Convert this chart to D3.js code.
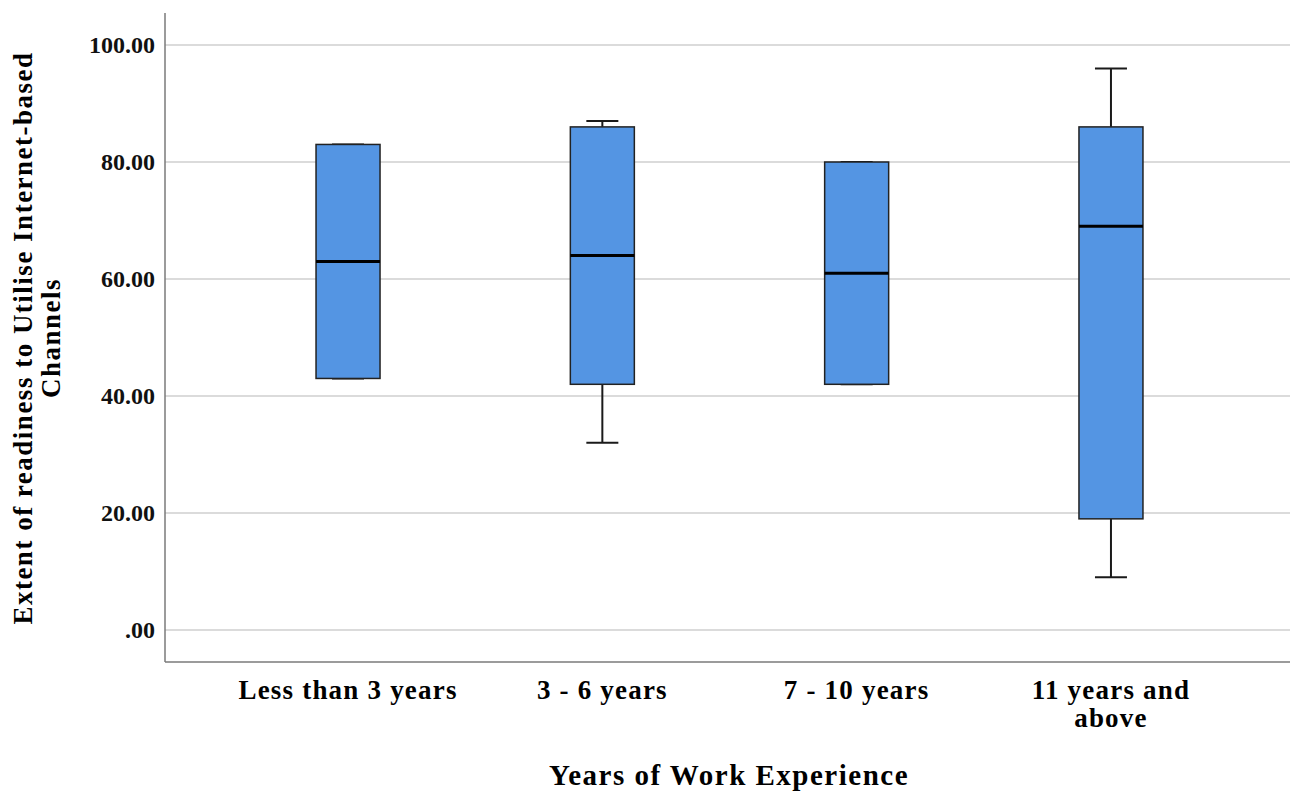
<!DOCTYPE html>
<html><head><meta charset="utf-8">
<script src="https://cdn.jsdelivr.net/npm/d3@7"></script>
<style>body{margin:0;background:#fff}svg{display:block}</style>
</head><body>
<svg id="c" width="1291" height="798"></svg>
<script>
const categories = ["Less than 3 years", "3 - 6 years", "7 - 10 years", "11 years and above"];
const categoryLines = [["Less than 3 years"], ["3 - 6 years"], ["7 - 10 years"], ["11 years and", "above"]];
const whiskerMin = [43, 32, 42, 9];
const q1 = [43, 42, 42, 19];
const median = [63, 64, 61, 69];
const q3 = [83, 86, 80, 86];
const whiskerMax = [83, 87, 80, 96];
const yTicks = [0, 20, 40, 60, 80, 100];
const yTitleLines = ["Extent of readiness to Utilise Internet-based", "Channels"];
const xTitle = "Years of Work Experience";

(function () {
const svg = d3.select("#c");
const pLeft = 165, pRight = 1290, pTop = 13, pBottom = 662;
const y = d3.scaleLinear().domain([0, 100]).range([630, 45]);
const x = d3.scalePoint().domain(categories).range([pLeft + 4, pRight]).padding(0.704);
const font = "'Liberation Serif', 'Times New Roman', serif";

svg.append("g").selectAll("line").data(yTicks).join("line")
  .attr("x1", pLeft).attr("x2", pRight)
  .attr("y1", d => y(d)).attr("y2", d => y(d))
  .attr("stroke", "#cfcfcf").attr("stroke-width", 1.5);

const yAxis = svg.append("g").attr("transform", `translate(${pLeft},0)`)
  .call(d3.axisLeft(y).tickValues(yTicks).tickSize(0).tickPadding(10)
    .tickFormat(d => d === 0 ? ".00" : d3.format(".2f")(d)));
yAxis.select(".domain").remove();
yAxis.selectAll("text").attr("font-family", font).attr("font-weight", "bold")
  .attr("font-size", 24).attr("fill", "#111").attr("dy", "0.33em");

svg.append("line").attr("x1", pLeft).attr("x2", pLeft).attr("y1", pTop).attr("y2", pBottom)
  .attr("stroke", "#7a7a7a").attr("stroke-width", 1.5);
svg.append("line").attr("x1", pLeft).attr("x2", pRight).attr("y1", pBottom).attr("y2", pBottom)
  .attr("stroke", "#7a7a7a").attr("stroke-width", 1.5);

const boxW = 64, capW = 32;
const g = svg.append("g");
categories.forEach((c, i) => {
  const cx = x(c);
  const gg = g.append("g");
  gg.append("line").attr("x1", cx).attr("x2", cx).attr("y1", y(whiskerMax[i])).attr("y2", y(q3[i]))
    .attr("stroke", "#1a1a1a").attr("stroke-width", 2);
  gg.append("line").attr("x1", cx).attr("x2", cx).attr("y1", y(q1[i])).attr("y2", y(whiskerMin[i]))
    .attr("stroke", "#1a1a1a").attr("stroke-width", 2);
  gg.append("line").attr("x1", cx - capW / 2).attr("x2", cx + capW / 2)
    .attr("y1", y(whiskerMax[i])).attr("y2", y(whiskerMax[i]))
    .attr("stroke", "#1a1a1a").attr("stroke-width", 2);
  gg.append("line").attr("x1", cx - capW / 2).attr("x2", cx + capW / 2)
    .attr("y1", y(whiskerMin[i])).attr("y2", y(whiskerMin[i]))
    .attr("stroke", "#1a1a1a").attr("stroke-width", 2);
  gg.append("rect").attr("x", cx - boxW / 2).attr("width", boxW)
    .attr("y", y(q3[i])).attr("height", y(q1[i]) - y(q3[i]))
    .attr("fill", "#5495e3").attr("stroke", "#222").attr("stroke-width", 1.5);
  gg.append("line").attr("x1", cx - boxW / 2).attr("x2", cx + boxW / 2)
    .attr("y1", y(median[i])).attr("y2", y(median[i]))
    .attr("stroke", "#000").attr("stroke-width", 3);
  const t = svg.append("text").attr("x", cx).attr("y", 699)
    .attr("text-anchor", "middle").attr("font-family", font)
    .attr("font-weight", "bold").attr("font-size", 27).attr("letter-spacing", 1.2)
    .attr("fill", "#000");
  categoryLines[i].forEach((ln, k) => {
    t.append("tspan").attr("x", cx).attr("dy", k === 0 ? 0 : 28).text(ln);
  });
});

svg.append("text").attr("x", 729).attr("y", 785).attr("text-anchor", "middle")
  .attr("font-family", font).attr("font-weight", "bold").attr("font-size", 29)
  .attr("letter-spacing", 1.5).attr("fill", "#000").text(xTitle);

const yt = svg.append("text").attr("transform", "translate(32,338) rotate(-90)")
  .attr("text-anchor", "middle").attr("font-family", font).attr("font-weight", "bold")
  .attr("font-size", 27).attr("letter-spacing", 1.5).attr("fill", "#000");
yTitleLines.forEach((ln, k) => {
  yt.append("tspan").attr("x", 0).attr("dy", k === 0 ? 0 : 28).text(ln);
});
})();
</script>
</body></html>
